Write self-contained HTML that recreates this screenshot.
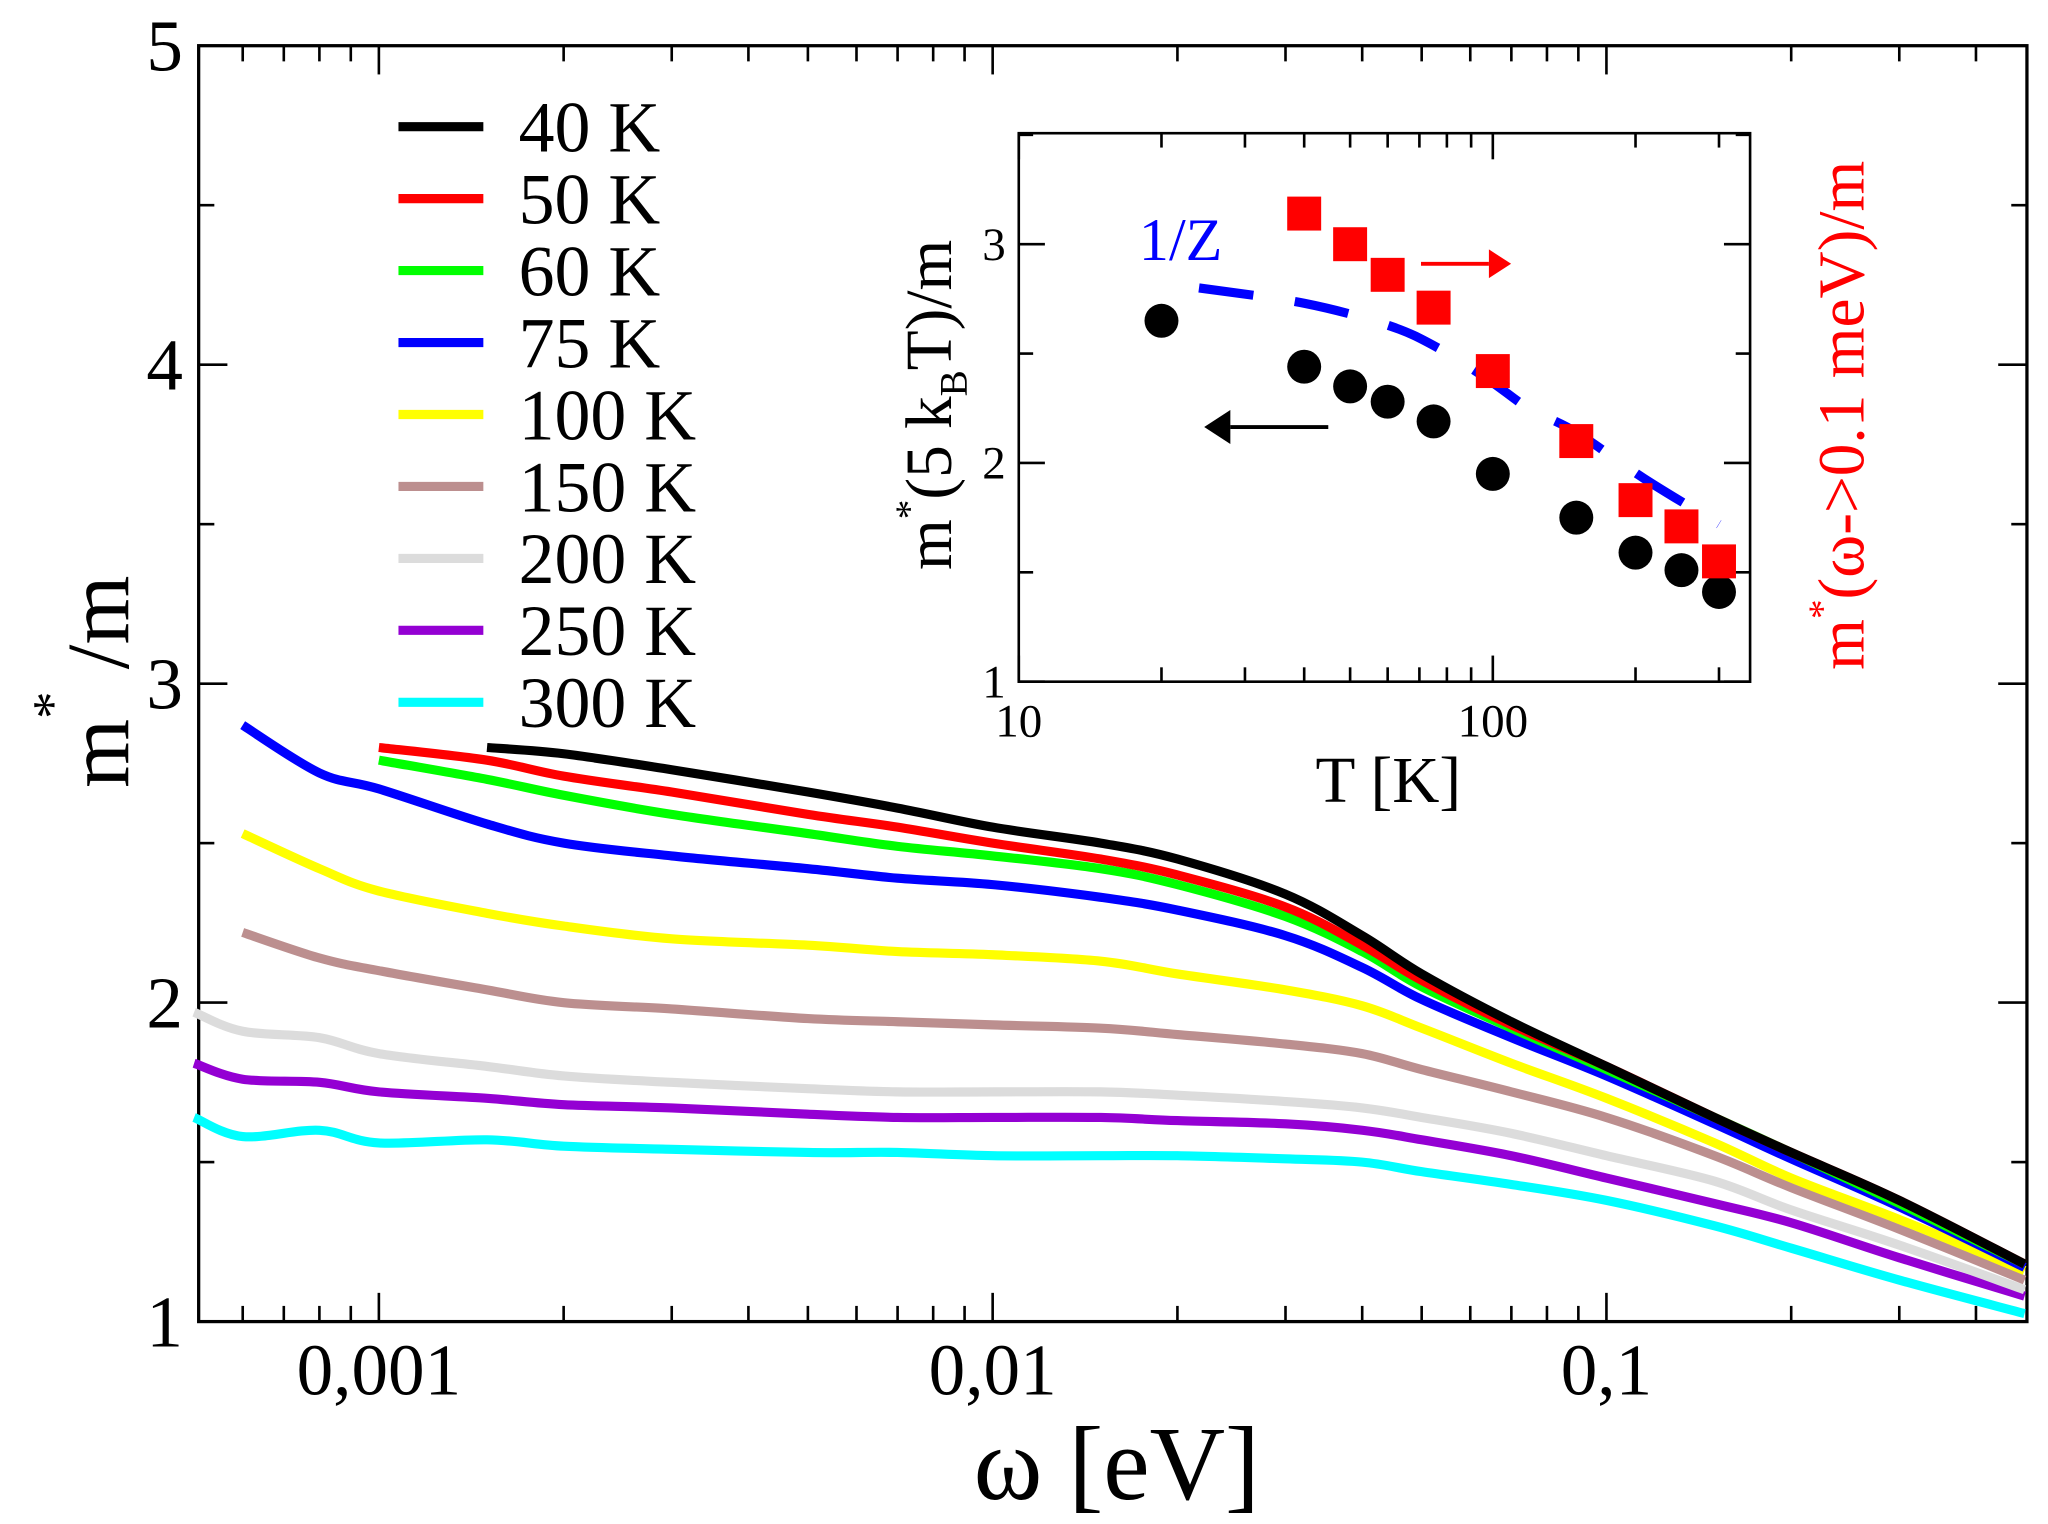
<!DOCTYPE html>
<html><head><meta charset="utf-8"><style>
html,body{margin:0;padding:0;background:#fff}
svg{display:block}
text{font-family:"Liberation Serif",serif}
</style></head><body>
<svg id="chart" width="2048" height="1524" viewBox="0 0 1568 1167" xmlns="http://www.w3.org/2000/svg" style="position:absolute;left:0;top:0">
<g id="main-axes"></g>
<g id="main-series"></g>
<g id="legend"></g>
<g id="inset"></g>
<text x="855" y="1148" font-size="80" text-anchor="middle">ω [eV]</text>
<text transform="translate(98,522) rotate(-90)" font-size="68" text-anchor="middle">m<tspan font-size="42" dy="-44">*</tspan><tspan dy="44"> /m</tspan></text>
</svg>
<script>
const NS='http://www.w3.org/2000/svg';
// ---- main chart data ----
const omegaPoints=[0.0005,0.0006,0.0008,0.001,0.0015,0.002,0.003,0.005,0.007,0.01,0.015,0.02,0.03,0.04,0.05,0.07,0.1,0.15,0.2,0.3,0.48];
const seriesLabels=['40 K','50 K','60 K','75 K','100 K','150 K','200 K','250 K','300 K'];
const seriesColors=['#000000','#ff0000','#00ff00','#0000ff','#ffff00','#bc8f8f','#dcdcdc','#9400d3','#00ffff'];
const s40=[null,null,null,null,2.80,2.78,2.73,2.66,2.61,2.55,2.50,2.45,2.34,2.21,2.09,1.94,1.80,1.64,1.53,1.38,1.18];
const s50=[null,null,null,2.80,2.76,2.71,2.66,2.59,2.55,2.50,2.45,2.40,2.30,2.18,2.07,1.93,1.80,1.64,1.53,1.38,1.18];
const s60=[null,null,null,2.76,2.70,2.65,2.59,2.53,2.49,2.46,2.42,2.37,2.27,2.16,2.05,1.92,1.79,1.64,1.53,1.37,1.18];
const s75=[null,2.87,2.72,2.67,2.56,2.50,2.46,2.42,2.39,2.37,2.33,2.29,2.21,2.11,2.01,1.89,1.77,1.62,1.51,1.36,1.17];
const s100=[null,2.53,2.42,2.35,2.28,2.24,2.20,2.18,2.16,2.15,2.13,2.09,2.04,1.99,1.92,1.81,1.70,1.56,1.45,1.32,1.16];
const s150=[null,2.22,2.14,2.10,2.04,2.00,1.98,1.95,1.94,1.93,1.92,1.90,1.87,1.84,1.79,1.72,1.64,1.52,1.42,1.29,1.13];
const s200=[1.97,1.91,1.89,1.84,1.80,1.77,1.75,1.73,1.72,1.72,1.72,1.71,1.69,1.67,1.64,1.59,1.52,1.44,1.35,1.24,1.10];
const s250=[1.81,1.76,1.75,1.72,1.70,1.68,1.67,1.65,1.64,1.64,1.64,1.63,1.62,1.60,1.57,1.52,1.45,1.37,1.31,1.20,1.08];
const s300=[1.64,1.58,1.60,1.56,1.57,1.55,1.54,1.53,1.53,1.52,1.52,1.52,1.51,1.50,1.47,1.43,1.38,1.30,1.23,1.13,1.025];
const allSeries=[s40,s50,s60,s75,s100,s150,s200,s250,s300];
const yTicks=[1,2,3,4,5];
const xTickVals=[0.001,0.01,0.1];
const xTickLabels=['0,001','0,01','0,1'];
// ---- inset data ----
const insetT=[20,40,50,60,75,100,150,200,250,300];
const insetCircles=[2.65,2.44,2.35,2.28,2.19,1.95,1.75,1.59,1.51,1.41];
const squareT=[40,50,60,75,100,150,200,250,300];
const insetSquares=[3.14,3.00,2.86,2.71,2.42,2.10,1.83,1.71,1.55];
const zT=[24,40,60,76,98,119,150,208,300];
const zVals=[2.80,2.73,2.63,2.53,2.38,2.25,2.14,1.93,1.72];

const L=152,R=1552,T=35,B=1012;
const xs=w=>290+(Math.log10(w)+3)*470;
const ys=m=>B-(m-1)*244.25;
function mk(tag,attrs,parent){const e=document.createElementNS(NS,tag);for(const k in attrs)e.setAttribute(k,attrs[k]);parent.appendChild(e);return e;}
function smooth(p){if(p.length<2)return '';let d='M'+p[0][0].toFixed(1)+','+p[0][1].toFixed(1);
 for(let i=0;i<p.length-1;i++){const p0=p[i-1]||p[i],p1=p[i],p2=p[i+1],p3=p[i+2]||p2;
  const c1=[p1[0]+(p2[0]-p0[0])/6,p1[1]+(p2[1]-p0[1])/6],c2=[p2[0]-(p3[0]-p1[0])/6,p2[1]-(p3[1]-p1[1])/6];
  d+=' C'+c1[0].toFixed(1)+','+c1[1].toFixed(1)+' '+c2[0].toFixed(1)+','+c2[1].toFixed(1)+' '+p2[0].toFixed(1)+','+p2[1].toFixed(1);}
 return d;}
const ax=document.getElementById('main-axes');
const fr=mk('rect',{x:L,y:T,width:R-L,height:B-T,fill:'none',stroke:'#000','stroke-width':2.5},ax);


for(let v=1;v<=5;v+=0.5){const y=ys(v),len=(v%1===0)?22:12;
 mk('line',{x1:L,x2:L+len,y1:y,y2:y,stroke:'#000','stroke-width':2},ax);
 mk('line',{x1:R,x2:R-len,y1:y,y2:y,stroke:'#000','stroke-width':2},ax);}
yTicks.forEach(v=>{const t=mk('text',{x:L-12,y:ys(v)+19,'font-size':56,'text-anchor':'end'},ax);t.textContent=v;
 
 });
for(let d=-4;d<=-1;d++)for(let k=1;k<10;k++){const w=k*Math.pow(10,d);const x=xs(w);if(x<L||x>R)continue;const len=k===1?22:12;
 mk('line',{x1:x,x2:x,y1:B,y2:B-len,stroke:'#000','stroke-width':2},ax);
 mk('line',{x1:x,x2:x,y1:T,y2:T+len,stroke:'#000','stroke-width':2},ax);}
xTickVals.forEach((v,i)=>{const t=mk('text',{x:xs(v),y:B+56,'font-size':56,'text-anchor':'middle'},ax);t.textContent=xTickLabels[i];
 
 });
const sg=document.getElementById('main-series');
for(let i=allSeries.length-1;i>=0;i--){const pts=[];allSeries[i].forEach((v,j)=>{if(v===null)return;pts.push([xs(omegaPoints[j]),ys(v)]);});
 const p=mk('path',{d:smooth(pts),fill:'none',stroke:seriesColors[i],'stroke-width':7,'stroke-linejoin':'round'},sg);
 
 }
const lg=document.getElementById('legend');
seriesLabels.forEach((lab,i)=>{const y=97+i*55.1;
 const l=mk('line',{x1:305,x2:370,y1:y,y2:y,stroke:seriesColors[i],'stroke-width':7},lg);
 
 
 const t=mk('text',{x:397,y:y+19,'font-size':55},lg);t.textContent=lab;
 
 });
// ---- inset ----
const IL=780,IR=1340,IT=102,IB=522;
const ix=t=>IL+(Math.log10(t)-1)*363;
const iy=v=>IB-(v-1)*167.5;
const ig=document.getElementById('inset');
const ifr=mk('rect',{x:IL,y:IT,width:IR-IL,height:IB-IT,fill:'#fff',stroke:'#000','stroke-width':2},ig);


for(let v=1;v<=3.5;v+=0.5){const y=iy(v),len=(v%1===0)?20:11;
 mk('line',{x1:IL,x2:IL+len,y1:y,y2:y,stroke:'#000','stroke-width':2},ig);
 mk('line',{x1:IR,x2:IR-len,y1:y,y2:y,stroke:'#000','stroke-width':2},ig);}
[1,2,3].forEach(v=>{const t=mk('text',{x:IL-10,y:iy(v)+12,'font-size':36,'text-anchor':'end'},ig);t.textContent=v;
 
 });
for(let d=1;d<=2;d++)for(let k=1;k<10;k++){const tv=k*Math.pow(10,d);const x=ix(tv);if(x>IR)continue;const len=k===1?20:11;
 mk('line',{x1:x,x2:x,y1:IB,y2:IB-len,stroke:'#000','stroke-width':2},ig);
 mk('line',{x1:x,x2:x,y1:IT,y2:IT+len,stroke:'#000','stroke-width':2},ig);}
[[10,'10'],[100,'100']].forEach(a=>{const t=mk('text',{x:ix(a[0]),y:IB+42,'font-size':36,'text-anchor':'middle'},ig);t.textContent=a[1];
 
 });
const zl=mk('path',{d:smooth(zT.map((t,i)=>[ix(t),iy(zVals[i])])),fill:'none',stroke:'#0000ff','stroke-width':7,'stroke-dasharray':'42 32'},ig);


insetT.forEach((t,i)=>{const c=mk('circle',{cx:ix(t),cy:iy(insetCircles[i]),r:13,fill:'#000'},ig);
 
 });
squareT.forEach((t,i)=>{const r=mk('rect',{x:ix(t)-13,y:iy(insetSquares[i])-13,width:26,height:26,fill:'#ff0000'},ig);
 
 });
</script>
<svg style="position:absolute;left:0;top:0" width="2048" height="1524" viewBox="0 0 1568 1167">
<text x="872" y="199" font-size="46" fill="#0000ff" font-family="Liberation Serif,serif">1/Z</text>
<line x1="1088" y1="202" x2="1140" y2="202" stroke="#ff0000" stroke-width="3"/>
<polygon points="1140,191 1157,202 1140,213" fill="#ff0000"/>
<line x1="1017" y1="327" x2="942" y2="327" stroke="#000" stroke-width="3"/>
<polygon points="942,314 922,327 942,340" fill="#000"/>
<text x="1063" y="614" font-size="50" text-anchor="middle" font-family="Liberation Serif,serif">T [K]</text>
<text transform="translate(728,310) rotate(-90)" font-size="50" text-anchor="middle" font-family="Liberation Serif,serif">m<tspan font-size="30" dy="-22">*</tspan><tspan dy="22">(5 k</tspan><tspan font-size="30" dy="12">B</tspan><tspan dy="-12">T)/m</tspan></text>
<text transform="translate(1427,318) rotate(-90)" font-size="50" fill="#ff0000" text-anchor="middle" font-family="Liberation Serif,serif">m<tspan font-size="30" dy="-22">*</tspan><tspan dy="22">(ω-&gt;0.1 meV)/m</tspan></text>
</svg>
</body></html>
